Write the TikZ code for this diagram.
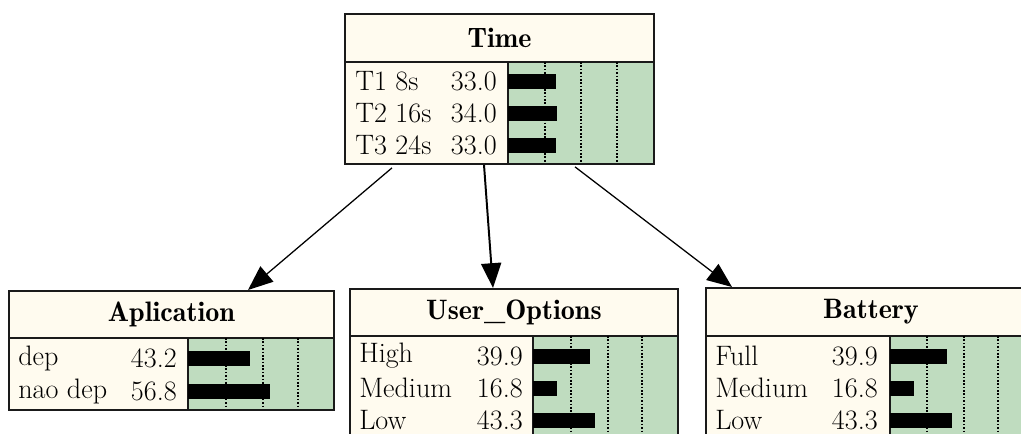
\documentclass[tikz,border=0pt]{standalone}
\usetikzlibrary{arrows.meta,calc}
\definecolor{headFill}{HTML}{FFFBEF}
\definecolor{barFill}{HTML}{BFDCBF}
\definecolor{boxStroke}{HTML}{1A1A1A}

\begin{document}
\begin{tikzpicture}[
    x=0.025cm, y=-0.025cm,
    font=\rmfamily\fontsize{20}{23}\selectfont,
    >={Triangle[length=0.62cm,width=0.5cm]},
    headNode/.style={
        rectangle, draw=boxStroke, line width=1.3pt,
        fill=headFill, anchor=north west, inner sep=0pt,
        font=\rmfamily\fontsize{20}{23}\fontseries{b}\selectfont
    },
    bodyNode/.style={
        rectangle, draw=boxStroke, line width=1.3pt,
        fill=headFill, anchor=north west, inner sep=0pt
    },
    barArea/.style={
        rectangle, draw=boxStroke, line width=1.3pt,
        fill=barFill, anchor=north west, inner sep=0pt
    },
    stateText/.style={anchor=west, inner sep=0pt},
    valText/.style={anchor=east, inner sep=0pt},
    probBar/.style={fill=black},
    gridLine/.style={dash pattern=on 1.2pt off 1.2pt, line width=1.1pt, draw=black},
    link/.style={->, line width=0.9pt, draw=black}
]

\useasboundingbox (0,0) rectangle (1021,434);
\clip (0,0) rectangle (1021,434);

% Time (parent)
\node[headNode, minimum width=7.725cm, minimum height=1.2cm] (TimeHead) at (344,13) {Time};
\node[bodyNode, minimum width=7.725cm, minimum height=2.55cm] (TimeBody) at (344,61) {};
\node[barArea, minimum width=3.65cm, minimum height=2.55cm] (TimeBars) at (507,61) {};
\foreach \xx in {545,581,617}
  \draw[gridLine] (\xx,62) -- (\xx,162);
\foreach \st/\pv/\yy [count=\i] in {T1 8s/33.0/81, T2 16s/34.0/113, T3 24s/33.0/145} {
  \node[stateText] (Time-s\i) at (355,\yy) {\st};
  \node[valText] (Time-v\i) at (497,\yy) {\pv};
  \fill[probBar] (508,\yy-7.5) rectangle ++(\pv*1.45,15);
}

% Aplication
\node[headNode, minimum width=8.125cm, minimum height=1.175cm] (AplHead) at (8,290) {Aplication};
\node[bodyNode, minimum width=8.125cm, minimum height=1.8cm] (AplBody) at (8,337) {};
\node[barArea, minimum width=3.65cm, minimum height=1.8cm] (AplBars) at (187,337) {};
\foreach \xx in {226,263,298}
  \draw[gridLine] (\xx,338) -- (\xx,408);
\foreach \st/\pv/\yy [count=\i] in {dep/43.2/358, nao dep/56.8/391} {
  \node[stateText] (Apl-s\i) at (18,\yy) {\st};
  \node[valText] (Apl-v\i) at (177,\yy) {\pv};
  \fill[probBar] (188,\yy-7.5) rectangle ++(\pv*1.44,15);
}

% User_Options
\node[headNode, minimum width=8.2cm, minimum height=1.175cm] (UserHead) at (349,288) {User\_Options};
\node[bodyNode, minimum width=8.2cm, minimum height=3.125cm] (UserBody) at (349,335) {};
\node[barArea, minimum width=3.625cm, minimum height=3.125cm] (UserBars) at (532,335) {};
\foreach \xx in {571,608,642}
  \draw[gridLine] (\xx,336) -- (\xx,440);
\foreach \st/\pv/\yy [count=\i] in {High/39.9/356, Medium/16.8/388, Low/43.3/420} {
  \node[stateText] (User-s\i) at (359,\yy) {\st};
  \node[valText] (User-v\i) at (523,\yy) {\pv};
  \fill[probBar] (533,\yy-7.5) rectangle ++(\pv*1.43,15);
}

% Battery
\node[headNode, minimum width=8.25cm, minimum height=1.2cm] (BatHead) at (705,287) {Battery};
\node[bodyNode, minimum width=8.25cm, minimum height=3.125cm] (BatBody) at (705,335) {};
\node[barArea, minimum width=3.65cm, minimum height=3.125cm] (BatBars) at (889,335) {};
\foreach \xx in {927,964,998}
  \draw[gridLine] (\xx,336) -- (\xx,440);
\foreach \st/\pv/\yy [count=\i] in {Full/39.9/356, Medium/16.8/388, Low/43.3/420} {
  \node[stateText] (Bat-s\i) at (715,\yy) {\st};
  \node[valText] (Bat-v\i) at (878,\yy) {\pv};
  \fill[probBar] (890,\yy-7.5) rectangle ++(\pv*1.43,15);
}

% links
\draw[link] ($(TimeBody.south west)+(48,3)$) -- ($(AplHead.north west)+(240,0)$);
\draw[link, line width=1.4pt] ($(TimeBody.south west)+(140,0)$) -- ($(UserHead.north west)+(144,0)$);
\draw[link] ($(TimeBody.south west)+(231,2)$) -- ($(BatHead.north west)+(27,0)$);

\end{tikzpicture}
\end{document}
